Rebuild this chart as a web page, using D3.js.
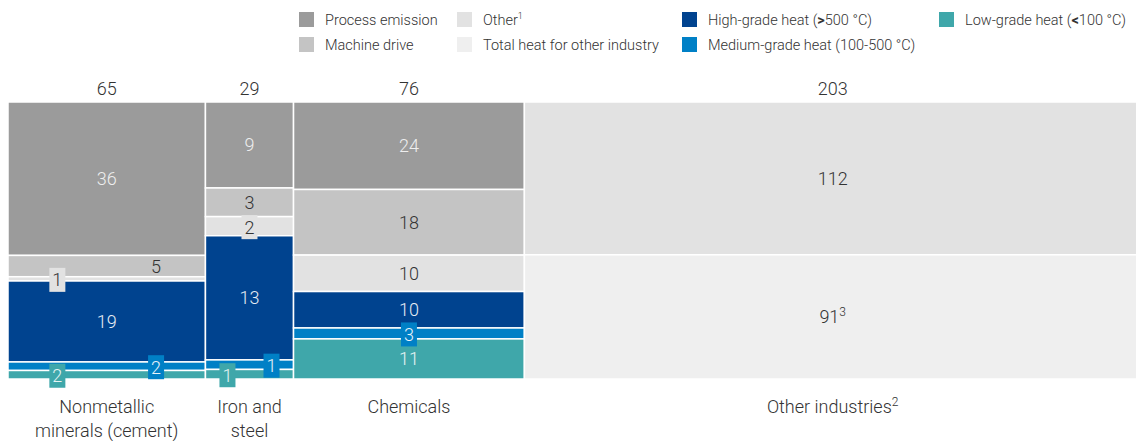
<!DOCTYPE html>
<html>
<head>
<meta charset="utf-8">
<script src="https://cdn.jsdelivr.net/npm/d3@7"></script>
<style>
  html, body { margin: 0; padding: 0; background: #fff; }
  svg { display: block; font-family: Roboto, "Liberation Sans", sans-serif; }
</style>
</head>
<body>
<svg id="chart" width="1136" height="441"></svg>
<script>
// ---- data ----
const categories = ["Nonmetallic minerals (cement)", "Iron and steel", "Chemicals", "Other industries"];
const categoryLines = [["Nonmetallic", "minerals (cement)"], ["Iron and", "steel"], ["Chemicals"], ["Other industries"]];
const categoryNotes = ["", "", "", "2"];
const totals = [65, 29, 76, 203];
const seriesNames = ["Process emission", "Machine drive", "Other", "Total heat for other industry",
                     "High-grade heat (>500 °C)", "Medium-grade heat (100-500 °C)", "Low-grade heat (<100 °C)"];
const processEmission = [36, 9, 24, 0];
const machineDrive    = [5, 3, 18, 0];
const otherUse        = [1, 2, 10, 112];
const totalHeatOther  = [0, 0, 0, 91];
const highGradeHeat   = [19, 13, 10, 0];
const mediumGradeHeat = [2, 1, 3, 0];
const lowGradeHeat    = [2, 1, 11, 0];
const valueNotes = {"3|3": "3"};

const seriesValues = [processEmission, machineDrive, otherUse, totalHeatOther, highGradeHeat, mediumGradeHeat, lowGradeHeat];
const colors = ["#9b9b9b", "#c4c4c4", "#e2e2e2", "#efefef", "#00438f", "#0080c6", "#3fa7aa"];
const textColors = ["#eeeeee", "#333333", "#333333", "#333333", "#e6ecf4", "#e8f2fa", "#e6f4f4"];
// horizontal label anchor (fraction of column width) where labels would collide
const labelAnchor = {"0|2": 0.25, "0|1": 0.75, "0|6": 0.25, "0|5": 0.75, "1|6": 0.25, "1|5": 0.75};

// ---- layout ----
const svg = d3.select("#chart");
const plotTop = 102, plotBottom = 379;
const grand = d3.sum(totals);
const x = d3.scaleLinear().domain([0, grand]).range([8, 1141]);
const starts = Array.from(d3.cumsum([0].concat(totals))).slice(0, totals.length);

const fontSize = 18;

categories.forEach((cat, ci) => {
  const x0 = x(starts[ci]), x1 = x(starts[ci] + totals[ci]);
  const y = d3.scaleLinear().domain([0, totals[ci]]).range([plotTop, plotBottom]);
  let acc = 0;
  const g = svg.append("g");
  const labels = [];
  seriesValues.forEach((arr, si) => {
    const v = arr[ci];
    if (!v) return;
    const y0 = y(acc), y1 = y(acc + v);
    acc += v;
    g.append("rect")
      .attr("x", x0).attr("y", y0)
      .attr("width", x1 - x0).attr("height", y1 - y0)
      .attr("fill", colors[si])
      .attr("stroke", "#fff").attr("stroke-width", 1.5);
    labels.push({si, v, y0, y1});
  });
  labels.forEach(({si, v, y0, y1}) => {
    const frac = labelAnchor[ci + "|" + si] ?? 0.5;
    const cx = x0 + (x1 - x0) * frac;
    const cy = (y0 + y1) / 2;
    const h = y1 - y0;
    const boxed = h < 20;
    if (boxed) {
      const w = String(v).length * 10 + 6;
      svg.append("rect")
        .attr("x", cx - w / 2).attr("y", cy - 11)
        .attr("width", w).attr("height", 24)
        .attr("fill", colors[si]);
    }
    const t = svg.append("text")
      .attr("x", cx).attr("y", cy + (boxed ? 1 : 0)).attr("dy", "0.36em")
      .attr("text-anchor", "middle")
      .attr("font-size", fontSize)
      .attr("font-weight", 300)
      .attr("fill", textColors[si]);
    t.append("tspan").text(v);
    const note = valueNotes[ci + "|" + si];
    if (note) t.append("tspan").attr("font-size", 12).attr("dy", "-0.6em").text(note);
  });
  // total on top
  svg.append("text")
    .attr("x", (x0 + x1) / 2).attr("y", 95)
    .attr("text-anchor", "middle")
    .attr("font-size", fontSize).attr("font-weight", 300)
    .attr("fill", "#333").text(totals[ci]);
  // category label
  const lt = svg.append("text")
    .attr("x", (x0 + x1) / 2).attr("y", 413)
    .attr("text-anchor", "middle")
    .attr("font-size", fontSize).attr("font-weight", 300)
    .attr("fill", "#333");
  categoryLines[ci].forEach((line, li) => {
    lt.append("tspan").attr("x", (x0 + x1) / 2).attr("y", 413 + li * 24).text(line);
  });
  if (categoryNotes[ci]) {
    lt.append("tspan").attr("font-size", 12).attr("dy", "-0.6em").text(categoryNotes[ci]);
  }
});

// ---- legend ----
const legendItems = [
  {si: 0, label: ["Process emission"], note: "", x: 299, row: 0},
  {si: 1, label: ["Machine drive"], note: "", x: 299, row: 1},
  {si: 2, label: ["Other"], note: "1", x: 457, row: 0},
  {si: 3, label: ["Total heat for other industry"], note: "", x: 457, row: 1},
  {si: 4, label: ["High-grade heat (", ">", "500 °C)"], note: "", x: 682, row: 0},
  {si: 5, label: ["Medium-grade heat (100-500 °C)"], note: "", x: 682, row: 1},
  {si: 6, label: ["Low-grade heat (", "<", "100 °C)"], note: "", x: 939, row: 0}
];
const lg = svg.append("g");
legendItems.forEach(it => {
  const yy = 12 + it.row * 25;
  lg.append("rect").attr("x", it.x).attr("y", yy).attr("width", 15).attr("height", 15)
    .attr("fill", colors[it.si]);
  const t = lg.append("text").attr("x", it.x + 26).attr("y", yy + 12.5)
    .attr("font-size", 14.5).attr("font-weight", 300).attr("fill", "#333");
  it.label.forEach((part, pi) => {
    t.append("tspan").attr("font-weight", pi === 1 ? 700 : 300).text(part);
  });
  if (it.note) t.append("tspan").attr("font-size", 9).attr("dy", "-0.6em").text(it.note);
});
</script>
</body>
</html>
